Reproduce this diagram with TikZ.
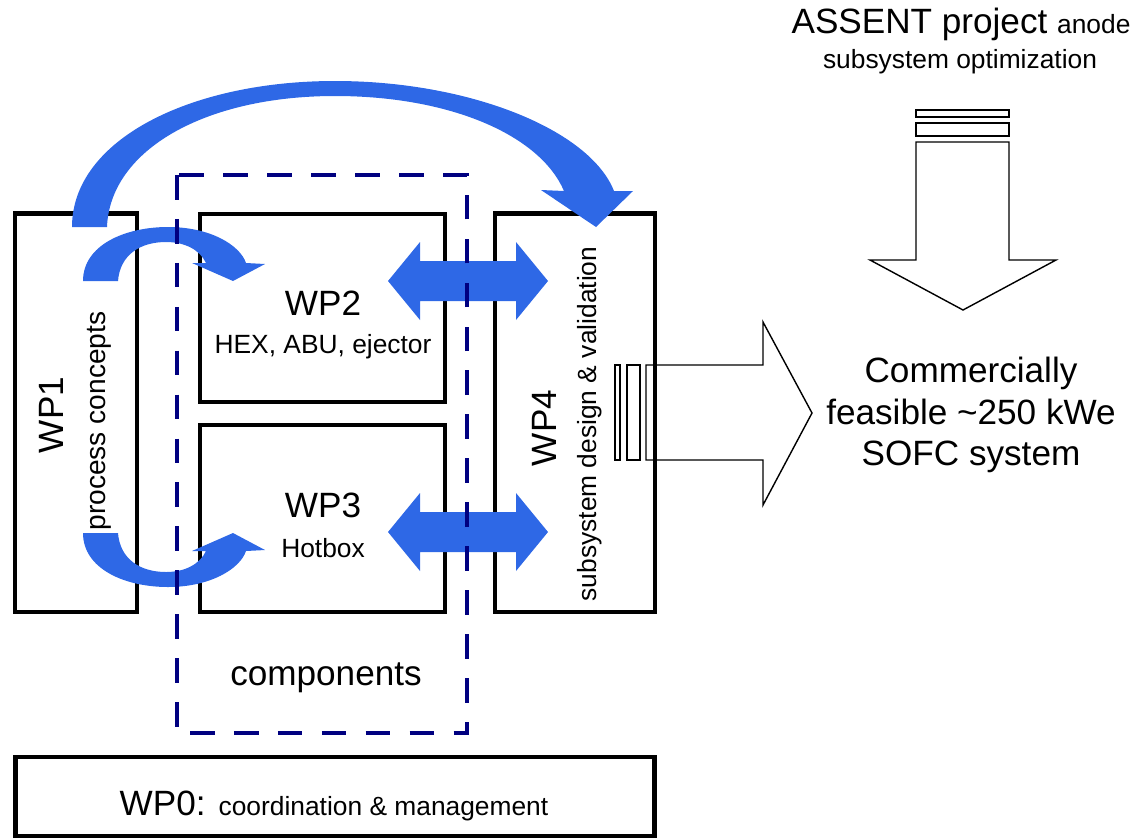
\documentclass[tikz,border=0pt]{standalone}
\usepackage{fontspec}
\setmainfont{Liberation Sans}
\definecolor{arrowblue}{RGB}{46,104,230}
\definecolor{compnavy}{RGB}{0,0,128}
\tikzset{
  wpbox/.style={draw=black, line width=2.8pt, inner sep=0pt},
  blockarrow/.style={draw=black, line width=0.8pt, fill=white, line join=miter},
  bluearrow/.style={fill=arrowblue},
  wplabel/.style={inner sep=0pt, font=\fontsize{20}{24}\selectfont},
  sublabel/.style={inner sep=0pt, font=\fontsize{15}{18}\selectfont},
  biglabel/.style={inner sep=0pt, align=center, font=\fontsize{20}{23.5}\selectfont},
}
\begin{document}
\begin{tikzpicture}[x=0.02cm, y=-0.02cm]
    \useasboundingbox (0,0) rectangle (1138,839);

    % Flèches creuses
    \draw[blockarrow] (646,365) -- (763,365) -- (763,322) -- (812,413) -- (763,505) -- (763,460) -- (646,460) -- cycle;
    \draw[blockarrow] (615,365) rectangle (620,460);
    \draw[blockarrow] (627,365) rectangle (640,460);
    \draw[blockarrow] (916,142) -- (916,260) -- (870,260) -- (963,310) -- (1056,260) -- (1009,260) -- (1009,142) -- cycle;
    \draw[blockarrow] (916,110) rectangle (1009,117);
    \draw[blockarrow] (916,123) rectangle (1009,136);

    % Boîtes
    \node[wpbox, minimum width=2.44cm, minimum height=7.98cm] (wp1) at (76,412.5) {};
    \node[wpbox, minimum width=4.9cm, minimum height=3.76cm] (wp2) at (322.5,308) {};
    \node[wpbox, minimum width=4.9cm, minimum height=3.74cm] (wp3) at (322.5,518.5) {};
    \node[wpbox, minimum width=3.2cm, minimum height=7.98cm] (wp4) at (575,412.5) {};
    \node[wpbox, minimum width=12.8cm, minimum height=1.58cm] (wp0) at (335,796.5) {};

    % Textes
    \node[wplabel, rotate=90] (wp1name) at (51,415) {WP1};
    \node[sublabel, rotate=90, font=\fontsize{16}{19}\selectfont] (wp1text) at (99,421) {process concepts};
    \node[wplabel] (wp2name) at (323,303) {WP2};
    \node[sublabel] (wp2text) at (323,347) {HEX, ABU, ejector};
    \node[wplabel] (wp3name) at (323,505) {WP3};
    \node[sublabel] (wp3text) at (323,548) {Hotbox};
    \node[wplabel, rotate=90] (wp4name) at (544,428) {WP4};
    \node[sublabel, rotate=90] (wp4text) at (590,424) {subsystem design \& validation};
    \node[wplabel] (compname) at (326,678) {components};
    \node[inner sep=0pt] (wp0name) at (334,806) {\fontsize{20}{24}\selectfont WP0: \fontsize{15}{18}\selectfont coordination \& management};
    \node[inner sep=0pt, anchor=base] (assent) at (961,33) {\fontsize{20}{24}\selectfont ASSENT project \fontsize{15}{18}\selectfont anode};
    \node[sublabel] (assenttext) at (960,62) {subsystem optimization};
    \node[biglabel] (goal) at (971,415) {Commercially\\feasible \textasciitilde250 kWe\\SOFC system};

    % Flèches bleues
    \fill[bluearrow] (72,227) .. controls (72,140) and (190,81) .. (335,81)
        .. controls (470,81) and (590,130) .. (614,191) -- (633,191) -- (596,227) -- (541,190) -- (564,191)
        .. controls (540,135) and (450,96) .. (335,96)
        .. controls (205,96) and (110,150) .. (107,227) -- cycle;
    \fill[bluearrow] (83,281) .. controls (83,245) and (125,227) .. (168,227)
        .. controls (210,227) and (240,245) .. (246,263) -- (265,264) -- (233,281) -- (192,263) -- (206,263)
        .. controls (200,250) and (185,242) .. (166,242)
        .. controls (140,242) and (120,255) .. (118,281) -- cycle;
    \fill[bluearrow] (83,533) .. controls (83,569) and (125,587) .. (168,587)
        .. controls (210,587) and (240,569) .. (246,551) -- (265,550) -- (233,533) -- (192,551) -- (206,551)
        .. controls (200,564) and (185,572) .. (166,572)
        .. controls (140,572) and (120,559) .. (118,533) -- cycle;
    \foreach \yc in {281,532}
        \fill[bluearrow] (388,\yc) -- (420,\yc-39) -- (420,\yc-20) -- (516,\yc-20) -- (516,\yc-39)
            -- (548,\yc) -- (516,\yc+39) -- (516,\yc+20) -- (420,\yc+20) -- (420,\yc+39) -- cycle;

    % Cadre des composants
    \draw[compnavy, line width=2.8pt, dash pattern=on 14pt off 11pt] (177,175) rectangle (467,733);
\end{tikzpicture}
\end{document}
